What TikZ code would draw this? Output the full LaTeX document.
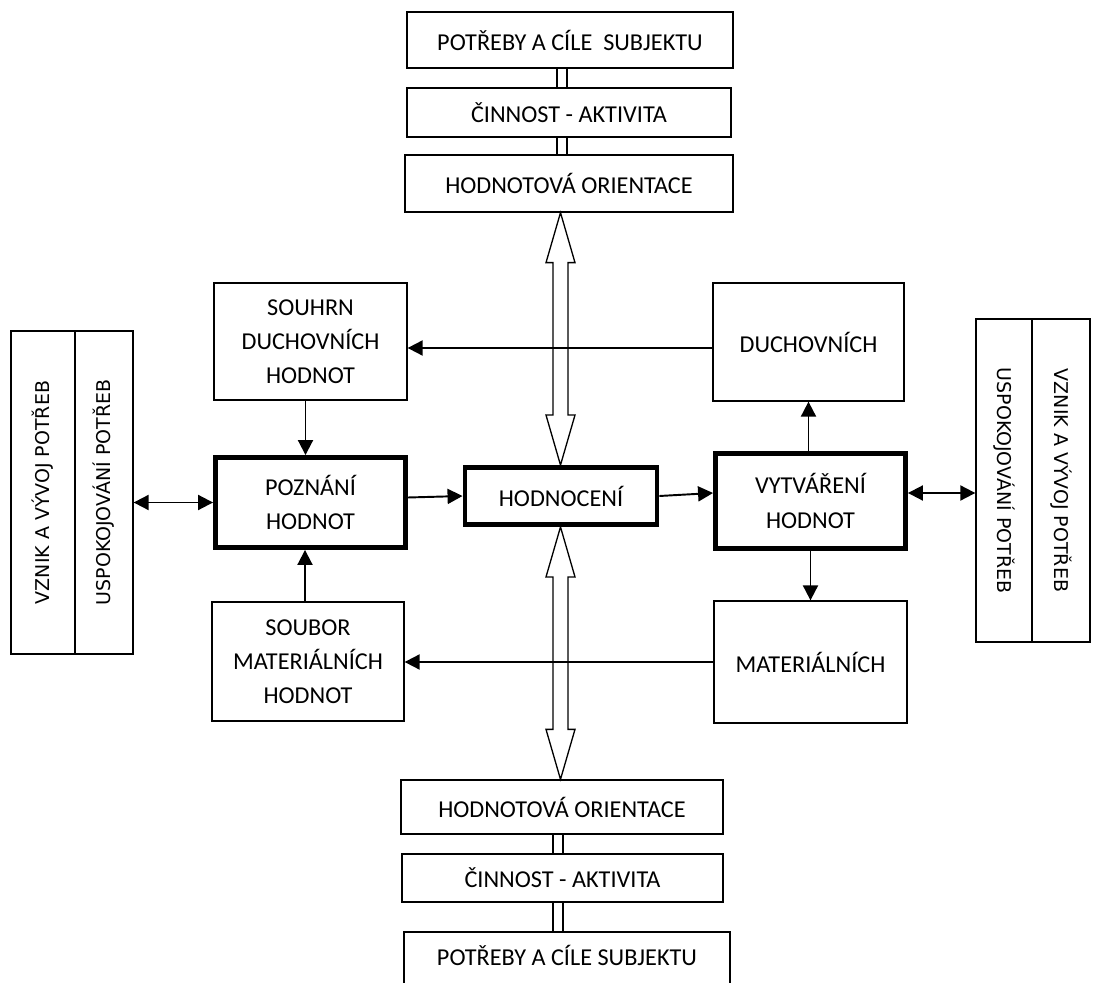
\documentclass[tikz,border=0pt]{standalone}
\usepackage{fontspec}
\setmainfont{Carlito}
\newfontfamily\sidefont{DejaVu Sans}
\usetikzlibrary{arrows.meta,calc}
\tikzset{
  box/.style={draw, line width=0.75pt, align=center, inner sep=0pt, font=\fontsize{13.8}{19.5}\selectfont},
  bold box/.style={box, line width=2.8pt},
  side/.style={draw, line width=0.75pt, inner sep=0pt, minimum width=6.46cm, font=\sidefont\fontsize{10.8}{13}\selectfont},
  link/.style={line width=1.1pt, -{Triangle[length=0.3cm,width=0.3cm]}},
  both/.style={line width=1.1pt, {Triangle[length=0.3cm,width=0.3cm]}-{Triangle[length=0.3cm,width=0.3cm]}},
  hollow/.style={line width=0.75pt, fill=white}
}
\begin{document}
\begin{tikzpicture}[x=0.02cm, y=-0.02cm]
        \useasboundingbox (0,0) rectangle (1093,983);
        \clip (0,0) rectangle (1093,983);
        \coordinate (spine) at (560.5,0);
        \coordinate (pipeT) at (562,0);
        \coordinate (pipeB) at (558,0);
        % horni sloupec
        \node[box, minimum width=6.52cm, minimum height=1.12cm] (needT) at (570,40) {POTŘEBY A CÍLE\ \ SUBJEKTU};
        \node[box, minimum width=6.48cm, minimum height=0.98cm] (actT) at (569,112.5) {ČINNOST - AKTIVITA};
        \node[box, minimum width=6.56cm, minimum height=1.14cm] (orientT) at (569,183.5) {HODNOTOVÁ ORIENTACE};
        % stredni cast
        \node[box, minimum width=3.86cm, minimum height=2.34cm] (souhrn) at (310.5,341.5) {SOUHRN\\DUCHOVNÍCH\\HODNOT};
        \node[box, minimum width=3.82cm, minimum height=2.36cm] (duch) at (808.5,342) {DUCHOVNÍCH};
        \node[bold box, minimum width=3.80cm, minimum height=1.80cm] (poznani) at (310.5,502.5) {POZNÁNÍ\\HODNOT};
        \node[bold box, minimum width=3.84cm, minimum height=1.14cm] (hodnoceni) at (561,496) {HODNOCENÍ};
        \node[bold box, minimum width=3.80cm, minimum height=1.90cm] (vytvareni) at (810.5,501) {VYTVÁŘENÍ\\HODNOT};
        \node[box, minimum width=3.84cm, minimum height=2.38cm] (soubor) at (308,661.5) {SOUBOR\\MATERIÁLNÍCH\\HODNOT};
        \node[box, minimum width=3.86cm, minimum height=2.44cm] (mat) at (810.5,662) {MATERIÁLNÍCH};
        % dolni sloupec
        \node[box, minimum width=6.44cm, minimum height=1.08cm] (orientB) at (562,807) {HODNOTOVÁ ORIENTACE};
        \node[box, minimum width=6.42cm, minimum height=0.96cm] (actB) at (562.5,878) {ČINNOST - AKTIVITA};
        \node[box, minimum width=6.52cm, minimum height=1.40cm] (needB) at (567,967) {};
        \node[font=\fontsize{13.8}{19.5}\selectfont] at (567,955) {POTŘEBY A CÍLE SUBJEKTU};
        % bocni sloupce
        \node[side, rotate=90, minimum height=1.28cm] (lvznik) at (43,492.5) {VZNIK A VÝVOJ POTŘEB};
        \node[side, rotate=90, minimum height=1.16cm] (luspok) at (104,492.5) {USPOKOJOVÁNÍ POTŘEB};
        \node[side, rotate=-90, minimum height=1.12cm] (ruspok) at (1004,480.5) {USPOKOJOVÁNÍ POTŘEB};
        \node[side, rotate=-90, minimum height=1.16cm] (rvznik) at (1061,480.5) {VZNIK A VÝVOJ POTŘEB};
        % spojky mezi bloky
        \draw[hollow] ([xshift=-0.1cm]needT.south -| pipeT) rectangle ([xshift=0.1cm]actT.north -| pipeT);
        \draw[hollow] ([xshift=-0.1cm]actT.south -| pipeT) rectangle ([xshift=0.1cm]orientT.north -| pipeT);
        \draw[hollow] ([xshift=-0.1cm]orientB.south -| pipeB) rectangle ([xshift=0.1cm]actB.north -| pipeB);
        \draw[hollow] ([xshift=-0.1cm]actB.south -| pipeB) rectangle ([xshift=0.1cm]needB.north -| pipeB);
        % duté sipky
        \coordinate (a1) at (orientT.south -| spine);
        \coordinate (a2) at (hodnoceni.north -| spine);
        \coordinate (b1) at (hodnoceni.south -| spine);
        \coordinate (b2) at (orientB.north -| spine);
        \draw[hollow] (a1) -- ($(a1)+(14.5,50)$) -- ($(a1)+(7.5,50)$) -- ($(a2)+(7.5,-50)$) -- ($(a2)+(14.5,-50)$) -- (a2)
            -- ($(a2)+(-14.5,-50)$) -- ($(a2)+(-7.5,-50)$) -- ($(a1)+(-7.5,50)$) -- ($(a1)+(-14.5,50)$) -- cycle;
        \draw[hollow] (b1) -- ($(b1)+(14.5,50)$) -- ($(b1)+(7.5,50)$) -- ($(b2)+(7.5,-50)$) -- ($(b2)+(14.5,-50)$) -- (b2)
            -- ($(b2)+(-14.5,-50)$) -- ($(b2)+(-7.5,-50)$) -- ($(b1)+(-7.5,50)$) -- ($(b1)+(-14.5,50)$) -- cycle;
        % sipky
        \draw[both] (poznani.west) -- (poznani.west -| luspok.south);
        \draw[link] ([yshift=0.1cm]poznani.east) -- (hodnoceni.west);
        \draw[link] (hodnoceni.east) -- ([yshift=0.16cm]vytvareni.west);
        \draw[both] ([yshift=0.16cm]vytvareni.east) -- ([yshift=0.16cm]vytvareni.east -| ruspok.south);
        \draw[link] ([xshift=-0.1cm]souhrn.south) -- ([xshift=-0.1cm]poznani.north);
        \draw[link] ([xshift=-0.06cm]soubor.north) -- ([xshift=-0.06cm]soubor.north |- poznani.south);
        \draw[link] (duch.south |- vytvareni.north) -- (duch.south);
        \draw[link] (vytvareni.south) -- (mat.north);
        \draw[link] ([yshift=-0.12cm]duch.west) -- ([yshift=-0.12cm]duch.west -| souhrn.east);
        \draw[link] (mat.west) -- (mat.west -| soubor.east);
\end{tikzpicture}
\end{document}
